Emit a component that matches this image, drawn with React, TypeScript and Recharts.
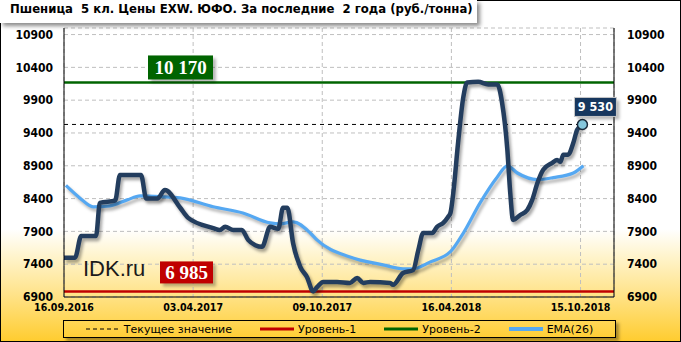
import React from 'react';
import { LineChart, Line, XAxis, YAxis, CartesianGrid, ReferenceLine, ReferenceDot, Legend } from 'recharts';

const titleText = 'Пшеница  5 кл. Цены EXW. ЮФО. За последние  2 года (руб./тонна)';
const tickWeeks = [0, 27, 54, 81, 108];
const tickLabels = ['16.09.2016', '03.04.2017', '09.10.2017', '16.04.2018', '15.10.2018'];
const yTicks = [6900, 7400, 7900, 8400, 8900, 9400, 9900, 10400, 10900];

const priceWeeks = [0, 2.3, 3.6, 6.7, 7.5, 10.7, 11.7, 16.1, 17.2, 19.5, 21.1, 24.3, 25.9, 31.2, 32.6, 33.7, 35.4, 37.2, 38.5, 40.0, 41.4, 43.1, 44.8, 45.8, 46.7, 47.9, 49.4, 50.8, 52.1, 52.9, 54.2, 57.1, 59.8, 61.3, 62.6, 64.0, 68.2, 68.8, 70.9, 73.0, 74.1, 75.1, 77.0, 78.0, 79.3, 80.3, 80.8, 81.4, 82.4, 83.5, 84.3, 86.6, 88.7, 90.6, 91.6, 92.7, 93.3, 93.9, 95.4, 96.9, 97.9, 99.0, 100.2, 102.1, 103.1, 103.8, 104.4, 105.4, 106.5, 107.3, 108.4];
const priceValues = [7500, 7500, 7830, 7830, 8335, 8370, 8760, 8760, 8400, 8400, 8530, 8260, 8110, 7950, 7920, 7970, 7920, 7920, 7770, 7690, 7665, 7970, 7940, 8260, 8260, 7720, 7360, 7205, 6985, 7050, 7130, 7130, 7115, 7190, 7115, 7130, 7115, 7085, 7265, 7310, 7620, 7875, 7875, 7970, 8030, 8120, 8180, 8490, 9250, 9950, 10170, 10180, 10140, 10140, 9860, 9145, 8490, 8075, 8150, 8230, 8380, 8640, 8840, 8945, 8990, 8960, 9070, 9070, 9250, 9450, 9530];

const emaWeeks = [0.4, 3.3, 6.1, 9.6, 13.2, 15.9, 20.1, 24.3, 31.2, 37.4, 43.1, 45.2, 47.9, 51.5, 52.9, 59.8, 66.7, 70.9, 73.0, 76.6, 80.8, 83.5, 87.0, 90.6, 92.7, 94.8, 99.0, 102.3, 106.5, 108.6];
const emaValues = [8600, 8410, 8275, 8290, 8380, 8440, 8430, 8410, 8275, 8180, 8030, 8015, 8045, 7875, 7770, 7510, 7390, 7330, 7330, 7435, 7590, 7875, 8335, 8730, 8900, 8790, 8690, 8720, 8790, 8900];

const level1 = 6985;
const level2 = 10170;
const currentValue = 9530;
const currentWeek = 108.4;

const legendNames = ['Текущее значение', 'Уровень-1', 'Уровень-2', 'EMA(26)'];

const priceData = priceWeeks.map((w, i) => ({ w, price: priceValues[i] }));
const emaData = emaWeeks.map((w, i) => ({ w, ema: emaValues[i] }));

const fmtSpace = (v: number) => String(v).replace(/\B(?=(\d{3})+(?!\d))/g, ' ');

const BoxLabel = (props: any) => {
  const { viewBox, text, fill, dx, dy, w, h, fontSize, fontFamily, stroke, pointMode } = props;
  if (!viewBox) return null;
  const bx = pointMode ? viewBox.x + viewBox.width / 2 + dx : viewBox.x + dx;
  const by = pointMode ? viewBox.y + viewBox.height / 2 + dy : viewBox.y + dy;
  return (
    <g>
      <rect x={bx + 3} y={by + 3} width={w} height={h} fill="rgba(0,0,0,0.28)" style={{ filter: 'blur(1.5px)' }} />
      <rect x={bx} y={by} width={w} height={h} fill={fill} stroke={stroke || 'none'} strokeWidth={1} />
      <text x={bx + w / 2} y={by + h / 2} dy="0.36em" textAnchor="middle" fill="#fff" fontWeight="bold" fontSize={fontSize} fontFamily={fontFamily}>{text}</text>
    </g>
  );
};

const LegendContent = () => {
  const samples = [
    { color: '#000', width: 1, dash: '4 3' },
    { color: '#C00000', width: 3, dash: undefined },
    { color: '#006400', width: 3, dash: undefined },
    { color: '#55A8F2', width: 4, dash: undefined },
  ];
  return (
    <div style={{ height: 18, boxSizing: 'border-box', border: '1px solid #000', boxShadow: '3px 3px 3px rgba(0,0,0,0.35)', display: 'flex', alignItems: 'center', justifyContent: 'center', gap: 28, fontFamily: '"DejaVu Sans", sans-serif', fontSize: 11, color: '#000' }}>
      {legendNames.map((n, i) => (
        <div key={n} style={{ display: 'flex', alignItems: 'center', gap: 4 }}>
          <svg width={34} height={8}>
            <line x1={0} y1={4} x2={34} y2={4} stroke={samples[i].color} strokeWidth={samples[i].width} strokeDasharray={samples[i].dash} strokeLinecap={i === 3 ? 'round' : 'butt'} />
          </svg>
          <span>{n}</span>
        </div>
      ))}
    </div>
  );
};

const axisFont = { fontFamily: '"DejaVu Sans Condensed", "DejaVu Sans", sans-serif', fontWeight: 'bold' as const, fill: '#000' };

export default function App() {
  return (
    <div style={{ position: 'relative', width: 681, height: 342, overflow: 'hidden', background: 'linear-gradient(to bottom, #ffffff 0%, #ffffff 67%, #FFF4CC 75%, #FFE38A 86%, #FFCC2E 100%)', boxShadow: 'inset 0 0 0 1px #000' }}>
      <style>{`body{margin:0} .price-line .recharts-line-curve{filter:drop-shadow(2px 3px 1.5px rgba(0,0,0,0.35))} .ema-line .recharts-line-curve{filter:drop-shadow(2px 3px 1.5px rgba(0,0,0,0.3))}`}</style>
      <LineChart width={681} height={342} margin={{ top: 28, right: 0, bottom: 4, left: 0 }}>
        <CartesianGrid stroke="#BFBFBF" strokeDasharray="4 3" />
        <XAxis dataKey="w" type="number" domain={[0, 115]} ticks={tickWeeks} interval={0} allowDataOverflow
          tickFormatter={(v: number) => tickLabels[tickWeeks.indexOf(v)] ?? ''}
          tickLine={false} tickSize={0} tickMargin={7} height={23}
          axisLine={{ stroke: '#000' }} tick={{ ...axisFont, fontSize: 10.5 }} />
        <XAxis xAxisId="top" orientation="top" dataKey="w" type="number" domain={[0, 115]} height={0} tick={false} tickLine={false} axisLine={{ stroke: '#000' }} />
        <YAxis type="number" domain={[6900, 11000]} ticks={yTicks} interval={0} width={64} tickLine={false} tickSize={0} tickMargin={11}
          axisLine={{ stroke: '#000' }} tick={{ ...axisFont, fontSize: 12 }} allowDataOverflow />
        <YAxis yAxisId="r" orientation="right" type="number" domain={[6900, 11000]} ticks={yTicks} interval={0} width={67} tickLine={false} tickSize={0} tickMargin={13}
          axisLine={{ stroke: '#000' }} tick={{ ...axisFont, fontSize: 12 }} allowDataOverflow />
        <ReferenceLine y={currentValue} stroke="#000" strokeDasharray="4 4" strokeWidth={1} />
        <ReferenceLine y={level1} stroke="#C00000" strokeWidth={2.5}
          label={<BoxLabel text={fmtSpace(level1)} fill="#C00000" dx={96} dy={-30} w={53} h={22} fontSize={19} fontFamily='"Liberation Serif", serif' />} />
        <ReferenceLine y={level2} stroke="#006400" strokeWidth={2.5}
          label={<BoxLabel text={fmtSpace(level2)} fill="#006400" dx={84} dy={-27} w={65} h={24} fontSize={19} fontFamily='"Liberation Serif", serif' />} />
        <Line className="ema-line" data={emaData} dataKey="ema" type="monotone" stroke="#55A8F2" strokeWidth={3.2} dot={false} isAnimationActive={false} />
        <Line className="price-line" data={priceData} dataKey="price" type="monotone" stroke="#233D5E" strokeWidth={4.5} dot={false} isAnimationActive={false} />
        <ReferenceDot x={currentWeek} y={currentValue} r={5} fill="#86C8DE" stroke="#1B2B3C" strokeWidth={1.5}
          label={<BoxLabel pointMode text={fmtSpace(currentValue)} fill="#17375E" stroke="#C8C8C8" dx={-8} dy={-27} w={42} h={19} fontSize={12.5} fontFamily='"DejaVu Sans Condensed", "DejaVu Sans", sans-serif' />} />
        <Legend verticalAlign="bottom" content={<LegendContent />} wrapperStyle={{ left: 63, width: 553 }} />
      </LineChart>
      <div style={{ position: 'absolute', left: 0, top: 0, width: 477, height: 23, background: '#fff', boxShadow: '3px 3px 4px rgba(0,0,0,0.45)' }}>
        <div style={{ position: 'absolute', left: 10, top: 4, whiteSpace: 'pre', fontFamily: '"DejaVu Sans", sans-serif', fontWeight: 'bold', fontSize: 11.7, lineHeight: 1, color: '#000' }}>{titleText}</div>
      </div>
      <div style={{ position: 'absolute', left: 83, top: 258, fontFamily: '"Liberation Sans", Arial, sans-serif', fontSize: 22, lineHeight: 1, color: '#1a1a1a' }}>IDK.ru</div>
    </div>
  );
}
